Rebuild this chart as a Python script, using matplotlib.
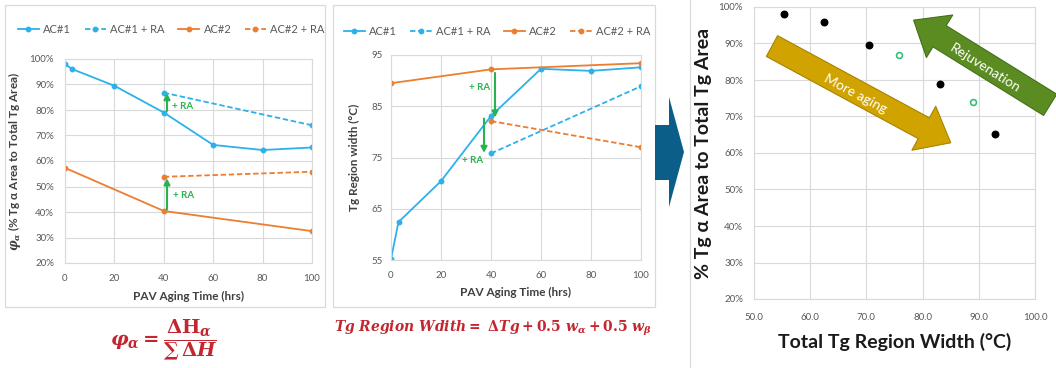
import matplotlib
matplotlib.use("Agg")
import matplotlib.pyplot as plt
from matplotlib.patches import Rectangle, Polygon
from matplotlib.lines import Line2D

plt.rcParams["font.family"] = ["Lato", "DejaVu Sans"]
plt.rcParams["mathtext.fontset"] = "custom"
plt.rcParams["mathtext.it"] = "DejaVu Serif:italic:bold"
plt.rcParams["mathtext.rm"] = "DejaVu Serif:bold"
plt.rcParams["mathtext.bf"] = "DejaVu Serif:bold"

# ---- data: phi_alpha (% Tg alpha area) vs PAV aging time ----
ac1_t = [0, 3, 20, 40, 60, 80, 100]
ac1_phi = [98.0, 96.0, 89.5, 79.0, 66.3, 64.3, 65.3]
ac1ra_t = [40, 100]
ac1ra_phi = [86.8, 74.0]
ac2_t = [0, 40, 100]
ac2_phi = [57.3, 40.4, 32.5]
ac2ra_t = [40, 100]
ac2ra_phi = [53.8, 55.8]

# ---- data: Tg region width vs PAV aging time ----
ac1_w = [55.2, 62.4, 70.4, 83.1, 92.3, 91.9, 92.6]
ac1ra_w = [75.8, 88.9]
ac2_w = [89.5, 92.2, 93.4]
ac2ra_w = [82.1, 77.0]

# ---- data: scatter phi vs width ----
aged_width = [55.3, 62.5, 70.5, 83.1, 92.8]
aged_phi = [98.1, 95.9, 89.6, 78.8, 65.3]
ra_width = [75.8, 89.0]
ra_phi = [86.8, 74.1]

time_ticks = [0, 20, 40, 60, 80, 100]
phi_ticks = [20, 30, 40, 50, 60, 70, 80, 90, 100]
width_ticks = [55, 65, 75, 85, 95]
scatter_x_ticks = [50, 60, 70, 80, 90, 100]

BLUE = "#2db1ea"
ORANGE = "#ed7d31"
GREEN = "#27b34f"
GRID = "#d9d9d9"
TICK = "#595959"
LABEL = "#404040"
RED = "#c3262e"

W, H = 1056, 368
fig = plt.figure(figsize=(W / 100, H / 100), dpi=100)


def fx(px):
    return px / W


def fy(py):
    return 1 - py / H


def axes_px(x0, x1, y0, y1):
    return fig.add_axes([fx(x0), fy(y1), fx(x1) - fx(x0), fy(y0) - fy(y1)])


def style_axes(ax, size=7, xpad=7, ypad=7):
    for s in ax.spines.values():
        s.set_color(GRID)
        s.set_linewidth(0.8)
    ax.grid(True, color=GRID, linewidth=0.8)
    ax.set_axisbelow(True)
    ax.tick_params(length=0, labelsize=size, labelcolor=TICK)
    ax.tick_params(axis="x", pad=xpad)
    ax.tick_params(axis="y", pad=ypad)


# panel frames
for x0, x1 in [(5, 325), (333, 655)]:
    fig.add_artist(Rectangle((fx(x0), fy(307)), fx(x1) - fx(x0), fy(5) - fy(307),
                             transform=fig.transFigure, fill=False,
                             edgecolor=GRID, linewidth=0.9))
fig.add_artist(Line2D([fx(690), fx(690)], [0, 1], color=GRID, linewidth=0.9))

line_kw = dict(marker="o", markersize=3.2, linewidth=1.3)
dash = (0, (3, 1.5))
leg_kw = dict(loc="center", ncol=4, frameon=False, fontsize=8, handlelength=1.9,
              columnspacing=1.2, handletextpad=0.4, labelcolor=TICK)
ra_arrow = dict(arrowstyle="-|>,head_length=0.35,head_width=0.18",
                color=GREEN, linewidth=1.5, shrinkA=0, shrinkB=0)

# ---- panel 1 ----
ax1 = axes_px(65, 312, 59, 263)
ax1.plot(ac1_t, ac1_phi, color=BLUE, label="AC#1", **line_kw)
ax1.plot(ac1ra_t, ac1ra_phi, color=BLUE, linestyle=dash, label="AC#1 + RA", **line_kw)
ax1.plot(ac2_t, ac2_phi, color=ORANGE, label="AC#2", **line_kw)
ax1.plot(ac2ra_t, ac2ra_phi, color=ORANGE, linestyle=dash, label="AC#2 + RA", **line_kw)
ax1.set_xlim(0, 100)
ax1.set_ylim(20, 100)
ax1.set_xticks(time_ticks)
ax1.set_yticks(phi_ticks)
ax1.set_yticklabels([f"{v}%" for v in phi_ticks])
style_axes(ax1, xpad=8, ypad=8)
ax1.set_xlabel("PAV Aging Time (hrs)", fontsize=8.5, fontweight="bold", color=LABEL, labelpad=6)
ax1.set_ylabel(r"$\varphi_\alpha$ (% Tg α Area to Total Tg Area)", fontsize=8.5,
               fontweight="bold", color=LABEL, labelpad=5)
ax1.legend(bbox_to_anchor=(0.43, 1.147), **leg_kw)
for x, y0, y1, tx, ty in [(41.3, 79.6, 86.6, 43.5, 81.2), (41.3, 41.0, 53.2, 43.8, 46.3)]:
    ax1.annotate("", xy=(x, y1), xytext=(x, y0), arrowprops=ra_arrow)
    ax1.text(tx, ty, "+ RA", color=GREEN, fontsize=7, fontweight="bold", va="center")

# ---- panel 2 ----
ax2 = axes_px(391, 641, 55, 260)
ax2.plot(ac1_t, ac1_w, color=BLUE, label="AC#1", **line_kw)
ax2.plot(ac1ra_t, ac1ra_w, color=BLUE, linestyle=dash, label="AC#1 + RA", **line_kw)
ax2.plot(ac2_t, ac2_w, color=ORANGE, label="AC#2", **line_kw)
ax2.plot(ac2ra_t, ac2ra_w, color=ORANGE, linestyle=dash, label="AC#2 + RA", **line_kw)
ax2.set_xlim(0, 100)
ax2.set_ylim(55, 95)
ax2.set_xticks(time_ticks)
ax2.set_yticks(width_ticks)
style_axes(ax2, xpad=8, ypad=6)
ax2.set_xlabel("PAV Aging Time (hrs)", fontsize=8.5, fontweight="bold", color=LABEL, labelpad=5)
ax2.set_ylabel("Tg Region width (°C)", fontsize=8.5, fontweight="bold", color=LABEL, labelpad=8)
ax2.legend(bbox_to_anchor=(0.424, 1.117), **leg_kw)
for x, y0, y1, tx, ty in [(41.6, 91.5, 82.8, 39.6, 88.6), (37.2, 82.6, 75.9, 36.8, 74.5)]:
    ax2.annotate("", xy=(x, y1), xytext=(x, y0), arrowprops=ra_arrow)
    ax2.text(tx, ty, "+ RA", color=GREEN, fontsize=7, fontweight="bold",
             va="center", ha="right")

# ---- transition chevron ----
chev = [(655, 125), (669, 125), (669, 97), (684, 152), (669, 207), (669, 180), (655, 180)]
fig.add_artist(Polygon([(fx(a), fy(b)) for a, b in chev], closed=True,
                       transform=fig.transFigure, facecolor="#0b5e88", edgecolor="none"))

# ---- panel 3 ----
ax3 = axes_px(754, 1035, 7, 299)
ax3.scatter(aged_width, aged_phi, s=22, color="black", zorder=3)
ax3.scatter(ra_width, ra_phi, s=18, facecolor="white", edgecolor="#35c07a",
            linewidth=1.2, zorder=3)
ax3.set_xlim(50, 100)
ax3.set_ylim(20, 100)
ax3.set_xticks(scatter_x_ticks)
ax3.set_xticklabels([f"{v:.1f}" for v in scatter_x_ticks])
ax3.set_yticks(phi_ticks)
ax3.set_yticklabels([f"{v}%" for v in phi_ticks])
style_axes(ax3, size=7, xpad=10, ypad=8)
ax3.set_xlabel("Total Tg Region Width (°C)", fontsize=14, fontweight="bold",
               color="#1a1a1a", labelpad=8)
ax3.set_ylabel("% Tg α Area to Total Tg Area", fontsize=14, fontweight="bold",
               color="#1a1a1a", labelpad=5)

ax3.annotate("", xy=(85.0, 62.8), xytext=(53.2, 89.3), annotation_clip=False,
             arrowprops=dict(arrowstyle="simple,head_length=2.2,head_width=3.6,tail_width=1.7",
                             mutation_scale=10, facecolor="#d1a300", edgecolor="#a88200",
                             linewidth=0.8, shrinkA=0, shrinkB=0))
ax3.text(68.0, 76.2, "More aging", color="white", fontsize=10, rotation=-28,
         ha="center", va="center")
ax3.annotate("", xy=(78.4, 96.4), xytext=(102.7, 73.2), annotation_clip=False,
             arrowprops=dict(arrowstyle="simple,head_length=2.2,head_width=3.6,tail_width=1.8",
                             mutation_scale=10, facecolor="#5b8c22", edgecolor="#44701a",
                             linewidth=0.8, shrinkA=0, shrinkB=0))
ax3.text(91.1, 83.3, "Rejuvenation", color="white", fontsize=10, rotation=-32,
         ha="center", va="center")

# ---- formulas ----
fig.text(fx(164), fy(340), r"$\varphi_\alpha = \dfrac{\Delta\mathrm{H}_\alpha}{\sum\,\Delta H}$",
         color=RED, fontsize=14, ha="center", va="center")
fig.text(fx(493), fy(328), r"$Tg\ Region\ Wdith =\ \Delta Tg + 0.5\ w_\alpha + 0.5\ w_\beta$",
         color=RED, fontsize=10, ha="center", va="center")

fig.savefig("out.png", dpi=100)
